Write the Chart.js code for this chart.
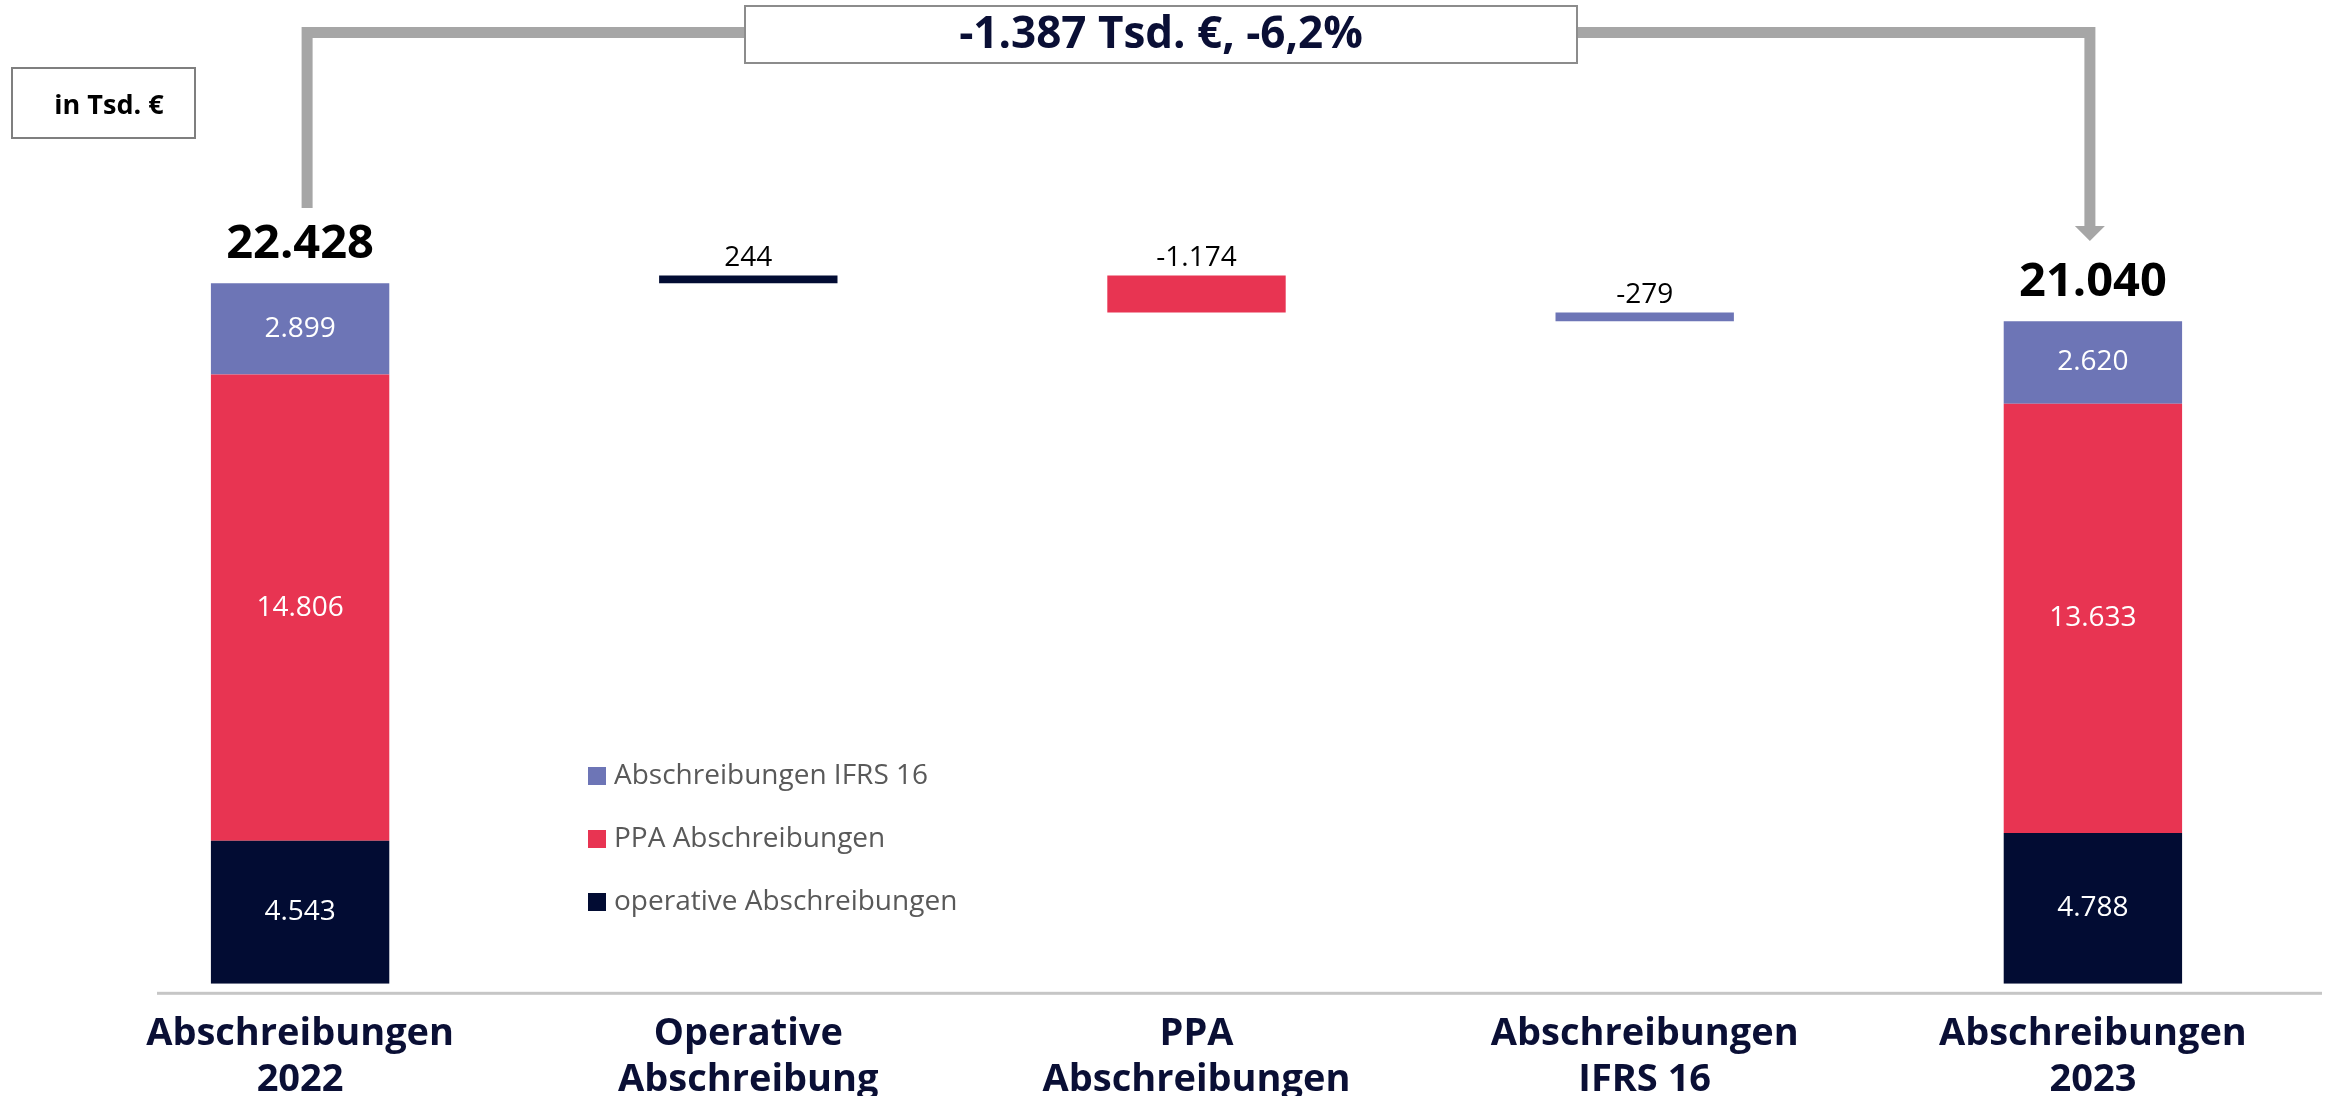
<!DOCTYPE html>
<html>
<head>
<meta charset="utf-8">
<script src="https://cdn.jsdelivr.net/npm/chart.js@4.4.1/dist/chart.umd.min.js"></script>
<style>
  html, body { margin: 0; padding: 0; background: #ffffff; }
</style>
</head>
<body>
<canvas id="Grafik_Abschreibungen" width="2331" height="1096"></canvas>
<script>
const categories = [
  ["Abschreibungen", "2022"],
  ["Operative", "Abschreibung"],
  ["PPA", "Abschreibungen"],
  ["Abschreibungen", "IFRS 16"],
  ["Abschreibungen", "2023"]
];
const seriesNames = ["operative Abschreibungen", "PPA Abschreibungen", "Abschreibungen IFRS 16"];
const seriesColors = ["#020c33", "#e83452", "#6d75b6"];

// operative, PPA, IFRS 16
const values2022 = [4543, 14806, 2899];
const changes = [244, -1174, -279];
const values2023 = [4788, 13633, 2620];
const totals = [22428, 21040];   // Summen wie im Bild beschriftet

const deltaText = "-1.387 Tsd. €, -6,2%";
const unitText = "in Tsd. €";

const navy = "#0a0f35";

// gestapelte Bereiche fuer die Saeulen links und rechts
function stackRanges(vals) {
  let acc = 0;
  return vals.map(v => { const r = [acc, acc + v]; acc += v; return r; });
}
const ranges2022 = stackRanges(values2022);
const ranges2023 = stackRanges(values2023);

// Wasserfall-Schritte ausgehend vom Stapel 2022
let running = ranges2022[ranges2022.length - 1][1];
const changeRanges = changes.map(c => { const r = [running, running + c]; running += c; return r; });

const datasets = seriesNames.map((name, s) => {
  const data = [ranges2022[s]];
  changes.forEach((c, j) => data.push(j === s ? changeRanges[j] : null));
  data.push(ranges2023[s]);
  return {
    label: name,
    data: data,
    backgroundColor: seriesColors[s],
    borderWidth: 0,
    grouped: false,
    barPercentage: 0.398,
    categoryPercentage: 1
  };
});

const fmt = v => (v < 0 ? "-" : "") + Math.abs(v).toString().replace(/\B(?=(\d{3})+(?!\d))/g, ".");

const overlay = {
  id: "overlay",
  afterDatasetsDraw(chart) {
    const ctx = chart.ctx;
    const metas = chart.data.datasets.map((d, i) => chart.getDatasetMeta(i));
    const last = categories.length - 1;
    ctx.save();
    ctx.textAlign = "center";
    ctx.textBaseline = "middle";

    // Werte in und ueber den Balken
    metas.forEach((meta, s) => {
      meta.data.forEach((bar, i) => {
        if (!chart.data.datasets[s].data[i]) return;
        const top = Math.min(bar.y, bar.base);
        const bottom = Math.max(bar.y, bar.base);
        ctx.font = '28px "Open Sans"';
        if (i === 0 || i === last) {
          const vals = i === 0 ? values2022 : values2023;
          ctx.fillStyle = "#ffffff";
          ctx.fillText(fmt(vals[s]), bar.x, (top + bottom) / 2);
        } else {
          ctx.fillStyle = "#000000";
          ctx.fillText(fmt(changes[i - 1]), bar.x, top - 17);
        }
      });
    });

    // Summen
    const topMeta = metas[metas.length - 1];
    [0, last].forEach((i, k) => {
      const bar = topMeta.data[i];
      ctx.font = 'bold 47px "Open Sans"';
      ctx.fillStyle = "#000000";
      ctx.fillText(fmt(totals[k]), bar.x, Math.min(bar.y, bar.base) - 39);
    });

    // x-Achsenlinie
    const area = chart.chartArea;
    ctx.fillStyle = "#c6c6c6";
    ctx.fillRect(area.left + 81, area.bottom + 8, area.right - area.left - 76, 3);

    // Legende
    ctx.textAlign = "left";
    ctx.font = '28px "Open Sans"';
    for (let r = 0; r < seriesNames.length; r++) {
      const s = seriesNames.length - 1 - r;
      const cy = 776 + r * 63;
      ctx.fillStyle = seriesColors[s];
      ctx.fillRect(588, cy - 9, 18, 18);
      ctx.fillStyle = "#595959";
      ctx.fillText(seriesNames[s], 614, cy);
    }

    // Klammer mit Pfeil
    const b0 = topMeta.data[0], b1 = topMeta.data[last];
    const xl = b0.x + 7, xr = b1.x - 3, yTop = 32.5;
    ctx.strokeStyle = "#a6a6a6";
    ctx.lineWidth = 11;
    ctx.lineJoin = "miter";
    ctx.beginPath();
    ctx.moveTo(xl, 208);
    ctx.lineTo(xl, yTop);
    ctx.lineTo(xr, yTop);
    ctx.lineTo(xr, 226);
    ctx.stroke();
    ctx.fillStyle = "#a6a6a6";
    ctx.beginPath();
    ctx.moveTo(xr - 15, 226);
    ctx.lineTo(xr + 15, 226);
    ctx.lineTo(xr, 241);
    ctx.closePath();
    ctx.fill();

    // Box mit Veraenderung
    ctx.fillStyle = "#ffffff";
    ctx.fillRect(745, 6, 832, 57);
    ctx.strokeStyle = "#8c8c8c";
    ctx.lineWidth = 2;
    ctx.strokeRect(745, 6, 832, 57);
    ctx.textAlign = "center";
    ctx.fillStyle = navy;
    ctx.font = 'bold 44px "Open Sans"';
    ctx.fillText(deltaText, 1161, 35);

    // Einheit
    ctx.fillStyle = "#ffffff";
    ctx.fillRect(12, 68, 183, 70);
    ctx.strokeStyle = "#7f7f7f";
    ctx.strokeRect(12, 68, 183, 70);
    ctx.fillStyle = "#000000";
    ctx.font = 'bold 27px "Open Sans"';
    ctx.fillText(unitText, 109, 106);

    ctx.restore();
  }
};

new Chart("Grafik_Abschreibungen", {
  type: "bar",
  data: {
    labels: categories,
    datasets: datasets
  },
  options: {
    responsive: false,
    animation: false,
    layout: {
      padding: { left: 76, right: 14, top: 39, bottom: -27 }
    },
    plugins: {
      legend: { display: false },
      tooltip: { enabled: false }
    },
    scales: {
      x: {
        grid: { display: false },
        border: { display: false },
        ticks: {
          color: navy,
          padding: 20,
          maxRotation: 0,
          font: { family: "Open Sans", size: 38, weight: "bold", lineHeight: 1.2 }
        }
      },
      y: {
        display: false,
        min: 0,
        max: 30000
      }
    }
  },
  plugins: [overlay]
});
</script>
</body>
</html>
